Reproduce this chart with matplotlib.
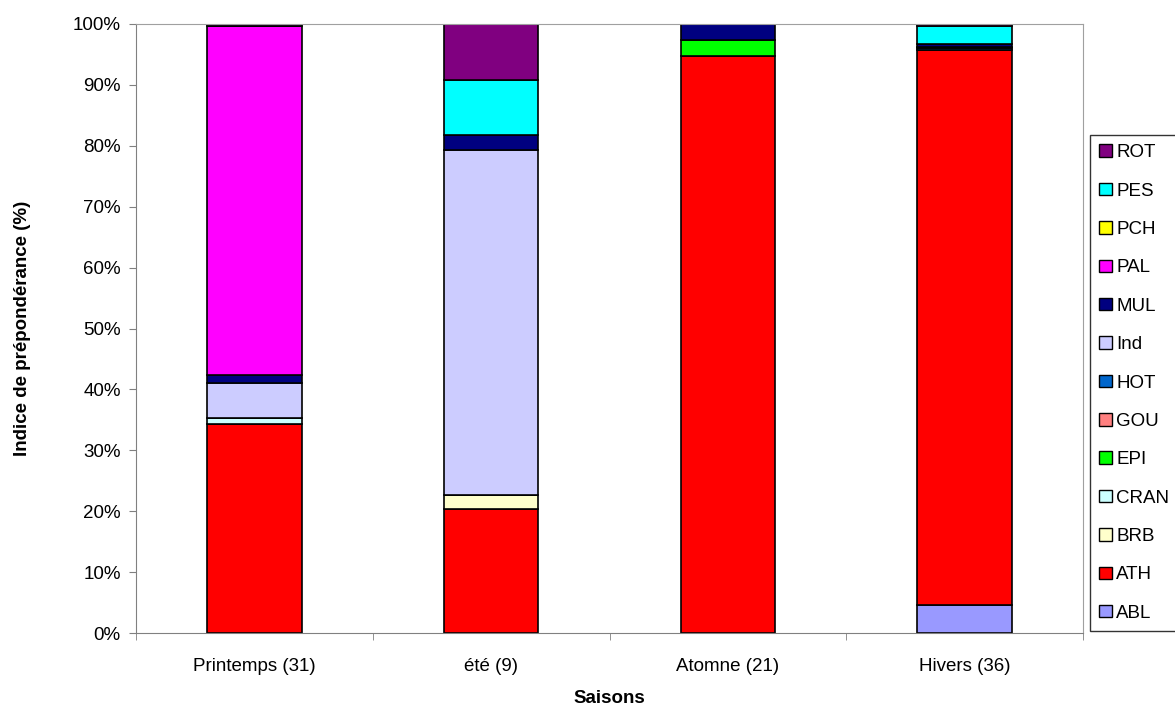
import matplotlib
matplotlib.use("Agg")
import matplotlib.pyplot as plt
from matplotlib.patches import Patch
import numpy as np

plt.rcParams['font.family'] = ['Liberation Sans', 'DejaVu Sans']

categories = ["Printemps (31)", "été (9)", "Atomne (21)", "Hivers (36)"]
species = ["ABL", "ATH", "BRB", "CRAN", "EPI", "GOU", "HOT", "Ind", "MUL", "PAL", "PCH", "PES", "ROT"]
colors = ["#9999FF", "#FF0000", "#FFFFCC", "#CCFFFF", "#00FF00", "#FF8080", "#0066CC",
          "#CCCCFF", "#000080", "#FF00FF", "#FFFF00", "#00FFFF", "#800080"]

ABL  = [0.0, 0.0, 0.0, 4.6]
ATH  = [34.3, 20.4, 94.8, 91.2]
BRB  = [0.0, 2.3, 0.0, 0.0]
CRAN = [1.0, 0.0, 0.0, 0.0]
EPI  = [0.0, 0.0, 2.5, 0.0]
GOU  = [0.0, 0.0, 0.0, 0.0]
HOT  = [0.0, 0.0, 0.0, 0.3]
Ind  = [5.8, 56.6, 0.0, 0.2]
MUL  = [1.2, 2.5, 2.7, 0.4]
PAL  = [57.4, 0.0, 0.0, 0.0]
PCH  = [0.0, 0.0, 0.0, 0.0]
PES  = [0.0, 9.0, 0.0, 2.9]
ROT  = [0.3, 9.2, 0.0, 0.4]

series = [ABL, ATH, BRB, CRAN, EPI, GOU, HOT, Ind, MUL, PAL, PCH, PES, ROT]

fig = plt.figure(figsize=(11.75, 7.05), dpi=100)
ax = fig.add_axes([136/1175, 1 - 633/705, (1083-136)/1175, (633-24)/705])

x = np.arange(len(categories))
bottom = np.zeros(len(categories))
for name, vals, c in zip(species, series, colors):
    v = np.array(vals, dtype=float)
    ax.bar(x, v, 0.4, bottom=bottom, color=c, edgecolor="black", linewidth=1.2, label=name)
    bottom += v

fs = 13.5
ax.set_xlim(-0.5, 3.5)
ax.set_ylim(0, 100)
ax.set_yticks(np.arange(0, 101, 10))
ax.set_yticklabels([f"{v}%" for v in range(0, 101, 10)], fontsize=fs)
ax.set_xticks(x)
ax.set_xticklabels(categories, fontsize=fs)
ax.tick_params(axis='x', which='major', length=0, pad=18)
ax.set_xticks(np.arange(-0.5, 4.0, 1.0), minor=True)
ax.tick_params(axis='x', which='minor', length=5, color='#808080')
ax.tick_params(axis='y', length=5, color='#808080', pad=6)

ax.set_ylabel("Indice de prépondérance (%)", fontsize=fs, fontweight='bold', labelpad=30)
ax.set_xlabel("Saisons", fontsize=fs, fontweight='bold', labelpad=11)

for s in ['top', 'right']:
    ax.spines[s].set_color('#A0A0A0')
for s in ['left', 'bottom']:
    ax.spines[s].set_color('#808080')

handles = [Patch(facecolor=c, edgecolor='black', label=n) for n, c in zip(species, colors)][::-1]
leg = fig.legend(handles=handles, loc='center left', bbox_to_anchor=(1090/1175, 1 - 383/705),
                 frameon=True, fancybox=False, edgecolor='black', fontsize=fs,
                 handlelength=0.65, handleheight=0.65, handletextpad=0.25,
                 labelspacing=1.14, borderpad=0.5, borderaxespad=0)
leg.get_frame().set_linewidth(1.0)

fig.savefig("out.png", dpi=100)
